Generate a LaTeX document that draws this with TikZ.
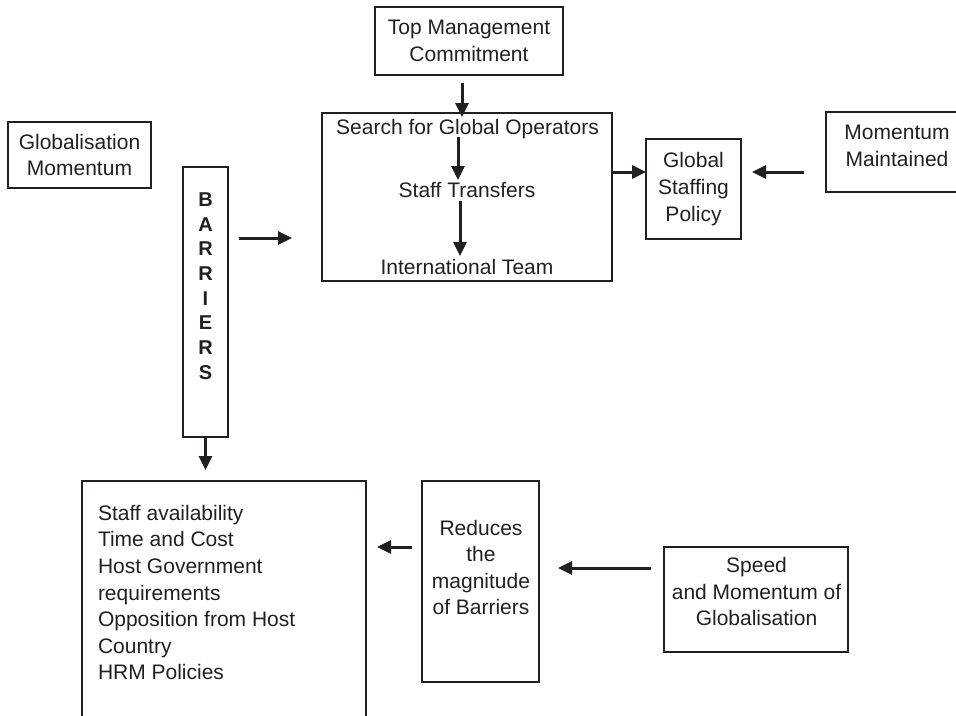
\documentclass[tikz,border=0pt]{standalone}
\usepackage{fontspec}
\setmainfont{Liberation Sans}
\usetikzlibrary{arrows.meta}
\definecolor{ink}{HTML}{231F20}
\begin{document}
\begin{tikzpicture}[x=1pt,y=-1pt,
  box/.style={draw=ink, line width=1.3pt, inner sep=0pt, outer sep=0pt,
    align=center, text=ink, font=\fontsize{21}{26.6}\selectfont},
  txt/.style={inner sep=0pt, outer sep=0pt, align=center, text=ink,
    font=\fontsize{21}{26.6}\selectfont},
  arr/.style={draw=ink, line width=3pt, -{Triangle[length=14pt,width=13pt]}},
]
\useasboundingbox (0,0) rectangle (956,715);
\clip (0,0) rectangle (956,715);

% ---- upper row ----
\node[box, minimum width=188pt, minimum height=68pt] (tmc) at (469,41)
  {Top Management\\Commitment};

\node[box, minimum width=290pt, minimum height=168pt] (bigbox) at (467,197) {};
\node[txt] (search) at (467.5,129.5) {Search for Global Operators};
\node[txt] (transfers) at (467,190.5) {Staff Transfers};
\node[txt] (team) at (467,267) {International Team};

\node[box, minimum width=95pt, minimum height=100pt] (gsp) at (693.5,189)
  {Global\\Staffing\\Policy};

\node[box, minimum width=146pt, minimum height=80pt] (mm) at (899,152) {};
\node[txt] (mmtext) at (897,146) {Momentum\\Maintained};

\node[box, minimum width=143pt, minimum height=66pt] (glob) at (79.5,155)
  {Globalisation\\Momentum};

\node[box, minimum width=45pt, minimum height=270pt] (barriers) at (205.5,302) {};
\node[txt, font=\fontsize{20}{24.7}\selectfont\bfseries] (barrierword) at (205.5,286)
  {B\\A\\R\\R\\I\\E\\R\\S};

% ---- lower row ----
\node[box, minimum width=284pt, minimum height=249pt] (obstacles) at (224,605.5) {};
\node[txt, align=left, anchor=north west] (obstext) at (98,505)
  {Staff availability\\Time and Cost\\Host Government\\requirements\\Opposition from Host\\Country\\HRM Policies};

\node[box, minimum width=117pt, minimum height=201pt] (reduces) at (480.5,581.5) {};
\node[txt] (reducestext) at (481,567.5) {Reduces\\the\\magnitude\\of Barriers};

\node[box, minimum width=184pt, minimum height=105pt] (speed) at (756,599.5) {};
\node[txt] (speedtext) at (756.5,591.5) {Speed\\and Momentum of\\Globalisation};

% ---- connectors ----
\draw[arr] ([shift={(-7,8)}]tmc.south) -- ([shift={(-5,4)}]bigbox.north);
\draw[arr] ([shift={(-9,24)}]bigbox.north) -- ([shift={(-9,67)}]bigbox.north);
\draw[arr] ([shift={(-7,88)}]bigbox.north) -- ([shift={(-7,143)}]bigbox.north);
\draw[arr] ([shift={(11,-64)}]barriers.east) -- ([shift={(-30,41)}]bigbox.west);
\draw[arr] ([shift={(0,-25)}]bigbox.east) -- ([shift={(0,-17)}]gsp.west);
\draw[arr] ([shift={(-22,20)}]mm.west) -- ([shift={(11,-17)}]gsp.east);
\draw[arr] (barriers.south) -- ([shift={(-18.5,-11)}]obstacles.north);
\draw[arr] ([shift={(-10,-34.5)}]reduces.west) -- ([shift={(11,-58.5)}]obstacles.east);
\draw[arr] ([shift={(-13,-31.5)}]speed.west) -- ([shift={(19,-13.5)}]reduces.east);
\end{tikzpicture}
\end{document}
